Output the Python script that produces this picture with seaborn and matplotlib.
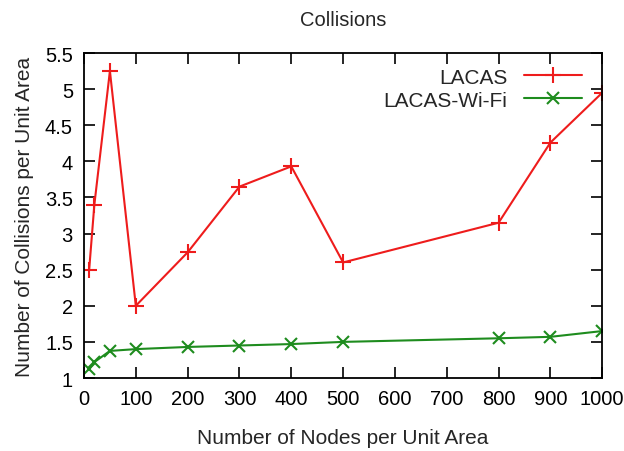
import matplotlib
matplotlib.use("Agg")
import matplotlib.pyplot as plt
import seaborn as sns
import pandas as pd

nodes = [10, 20, 50, 100, 200, 300, 400, 500, 800, 900, 1000]
lacas = [2.5, 3.4, 5.25, 2.0, 2.74, 3.65, 3.93, 2.6, 3.15, 4.26, 4.95]
lacas_wifi = [1.12, 1.22, 1.375, 1.40, 1.43, 1.45, 1.47, 1.50, 1.55, 1.57, 1.65]
series_names = ["LACAS", "LACAS-Wi-Fi"]
x_ticks = list(range(0, 1001, 100))
y_ticks = [1, 1.5, 2, 2.5, 3, 3.5, 4, 4.5, 5, 5.5]

df_a = pd.DataFrame({"Nodes": nodes, "Collisions": lacas})
df_b = pd.DataFrame({"Nodes": nodes, "Collisions": lacas_wifi})

sns.set_style("ticks")
plt.rcParams["font.family"] = ["Liberation Sans", "DejaVu Sans"]

fig = plt.figure(figsize=(6.24, 4.52), dpi=100)
ax = fig.add_axes([0.1346, 0.1615, 0.8305, 0.719])

sns.lineplot(data=df_a, x="Nodes", y="Collisions", color="#ee1c1c",
             marker="+", markersize=11, markeredgewidth=1.5, markeredgecolor="#ee1c1c",
             linewidth=1.5, label=series_names[0], ax=ax)
sns.lineplot(data=df_b, x="Nodes", y="Collisions", color="#1e8c1e",
             marker="x", markersize=9, markeredgewidth=1.5, markeredgecolor="#1e8c1e",
             linewidth=1.5, label=series_names[1], ax=ax)

ax.set_xlim(0, 1000)
ax.set_ylim(1, 5.5)
ax.set_xticks(x_ticks)
ax.set_yticks(y_ticks)
ax.set_yticklabels([f"{v:g}" for v in y_ticks])
ax.tick_params(direction="in", length=8, width=1.2, top=True, right=True,
               labelsize=14.5, colors="black", pad=8)
for s in ax.spines.values():
    s.set_visible(True)
    s.set_linewidth(1.3)
    s.set_color("black")

ax.set_xlabel("Number of Nodes per Unit Area", fontsize=15, labelpad=14)
ax.set_ylabel("Number of Collisions per Unit Area", fontsize=15, labelpad=8)
ax.set_title("Collisions", fontsize=14.5, pad=20)

leg = ax.legend(loc="upper right", frameon=False, fontsize=15, markerfirst=False,
                handlelength=2.8, borderaxespad=0.3, labelspacing=0.2,
                bbox_to_anchor=(0.99, 1.0))

fig.savefig("out.png", dpi=100)
